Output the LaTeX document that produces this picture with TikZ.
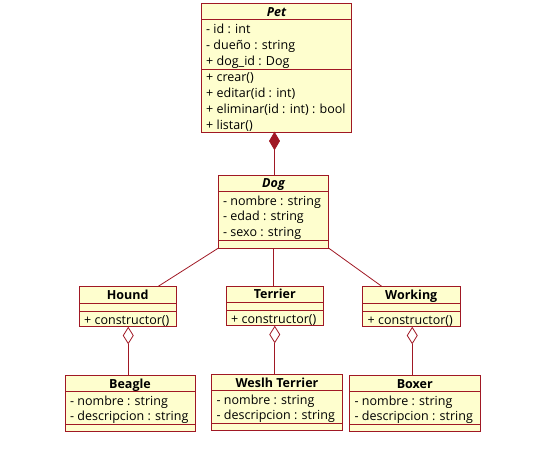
\documentclass[tikz,border=0pt]{standalone}
\usepackage{fontspec}
\setmainfont{Open Sans}
\usetikzlibrary{shapes.geometric,calc}
\definecolor{umlred}{RGB}{160,24,36}
\definecolor{umlfill}{RGB}{254,254,206}
\newcommand\attrfont{\fontsize{12.5}{16}\selectfont}
\newcommand\titlefont{\fontsize{12.5}{16}\selectfont\bfseries}
\newcommand\titlefontit{\fontsize{12.5}{16}\selectfont\bfseries\itshape}
\tikzset{
  cls/.style={rectangle, draw=umlred, fill=umlfill, line width=1pt, inner sep=0pt, outer sep=0pt, anchor=north west},
  sepline/.style={draw=umlred, line width=0.9pt},
  txt/.style={anchor=base west, inner sep=0pt, font=\attrfont},
  ttl/.style={anchor=base, inner sep=0pt, font=\titlefont},
  ttlit/.style={anchor=base, inner sep=0pt, font=\titlefontit},
  conn/.style={draw=umlred, line width=0.8pt},
  comp/.style={diamond, draw=umlred, fill=umlred, line width=0.8pt, inner sep=0pt, outer sep=0pt, minimum width=10pt, minimum height=17pt, anchor=north},
  aggr/.style={diamond, draw=umlred, fill=white, line width=0.8pt, inner sep=0pt, outer sep=0pt, minimum width=10pt, minimum height=16pt, anchor=north}
}
\begin{document}
\begin{tikzpicture}[x=1pt,y=-1pt]
\useasboundingbox (0,0) rectangle (539,448);

% ---------- Pet ----------
\node[cls, minimum width=150pt, minimum height=129pt] (pet) at (201.5,3.5) {};
\draw[sepline] (201.5,19.5) -- (351.5,19.5);
\draw[sepline] (201.5,69) -- (351.5,69);
\node[ttlit] (petT) at (276.5,16) {Pet};
\node[txt] (petA1) at (206,33) {- id : int};
\node[txt] (petA2) at (206,49) {- dueño : string};
\node[txt] (petA3) at (206,65) {+ dog\_id : Dog};
\node[txt] (petM1) at (206,81) {+ crear()};
\node[txt] (petM2) at (206,97) {+ editar(id : int)};
\node[txt] (petM3) at (206,113) {+ eliminar(id : int) : bool};
\node[txt] (petM4) at (206,129) {+ listar()};

% ---------- Dog ----------
\node[cls, minimum width=110pt, minimum height=73pt] (dog) at (218.5,175) {};
\draw[sepline] (218.5,191.5) -- (328.5,191.5);
\draw[sepline] (218.5,240) -- (328.5,240);
\node[ttlit] (dogT) at (273.5,187.5) {Dog};
\node[txt] (dogA1) at (223,205) {- nombre : string};
\node[txt] (dogA2) at (223,220.5) {- edad : string};
\node[txt] (dogA3) at (223,236) {- sexo : string};

% ---------- Hound ----------
\node[cls, minimum width=97.5pt, minimum height=40pt] (hound) at (79,286.5) {};
\draw[sepline] (79,303) -- (176.5,303);
\draw[sepline] (79,311.5) -- (176.5,311.5);
\node[ttl] (houndT) at (127.75,299.5) {Hound};
\node[txt] (houndM1) at (84,324) {+ constructor()};

% ---------- Terrier ----------
\node[cls, minimum width=97.5pt, minimum height=39.5pt] (terrier) at (226,286) {};
\draw[sepline] (226,302) -- (323.5,302);
\draw[sepline] (226,310.5) -- (323.5,310.5);
\node[ttl] (terrierT) at (274.75,298.5) {Terrier};
\node[txt] (terrierM1) at (231,323) {+ constructor()};

% ---------- Working ----------
\node[cls, minimum width=97.5pt, minimum height=40pt] (working) at (362.5,286.5) {};
\draw[sepline] (362.5,303) -- (460,303);
\draw[sepline] (362.5,311.5) -- (460,311.5);
\node[ttl] (workingT) at (411.25,299.5) {Working};
\node[txt] (workingM1) at (367.5,324) {+ constructor()};

% ---------- Beagle ----------
\node[cls, minimum width=130pt, minimum height=56.5pt] (beagle) at (65,375) {};
\draw[sepline] (65,391.5) -- (195,391.5);
\draw[sepline] (65,424.5) -- (195,424.5);
\node[ttl] (beagleT) at (130,388.5) {Beagle};
\node[txt] (beagleA1) at (70,405) {- nombre : string};
\node[txt] (beagleA2) at (70,420.5) {- descripcion : string};

% ---------- Weslh Terrier ----------
\node[cls, minimum width=131pt, minimum height=56.5pt] (welsh) at (211.5,374) {};
\draw[sepline] (211.5,390.5) -- (342.5,390.5);
\draw[sepline] (211.5,423.5) -- (342.5,423.5);
\node[ttl] (welshT) at (277,387.5) {Weslh Terrier};
\node[txt] (welshA1) at (216.5,404) {- nombre : string};
\node[txt] (welshA2) at (216.5,419.5) {- descripcion : string};

% ---------- Boxer ----------
\node[cls, minimum width=130.5pt, minimum height=56.5pt] (boxer) at (349.5,375) {};
\draw[sepline] (349.5,391.5) -- (480,391.5);
\draw[sepline] (349.5,424.5) -- (480,424.5);
\node[ttl] (boxerT) at (414.75,388.5) {Boxer};
\node[txt] (boxerA1) at (354.5,405) {- nombre : string};
\node[txt] (boxerA2) at (354.5,420.5) {- descripcion : string};

% ---------- Relations ----------
\node[comp] (pdia) at ([xshift=-2pt]pet.south) {};
\draw[conn] (pdia.south) -- (pdia.south |- dog.north);

\draw[conn] (dog.south west) -- ($(hound.north west)!0.81!(hound.north east)$);
\draw[conn] (dog.south) -- (dog.south |- terrier.north);
\draw[conn] (dog.south east) -- ($(working.north west)!0.2!(working.north east)$);

\node[aggr] (hdia) at ([xshift=0.5pt,yshift=-1pt]hound.south) {};
\draw[conn] (hdia.south) -- (hdia.south |- beagle.north);
\node[aggr] (tdia) at ([yshift=-1pt]terrier.south) {};
\draw[conn] (tdia.south) -- (tdia.south |- welsh.north);
\node[aggr] (wdia) at ([xshift=1pt,yshift=-1pt]working.south) {};
\draw[conn] (wdia.south) -- (wdia.south |- boxer.north);
\end{tikzpicture}
\end{document}
